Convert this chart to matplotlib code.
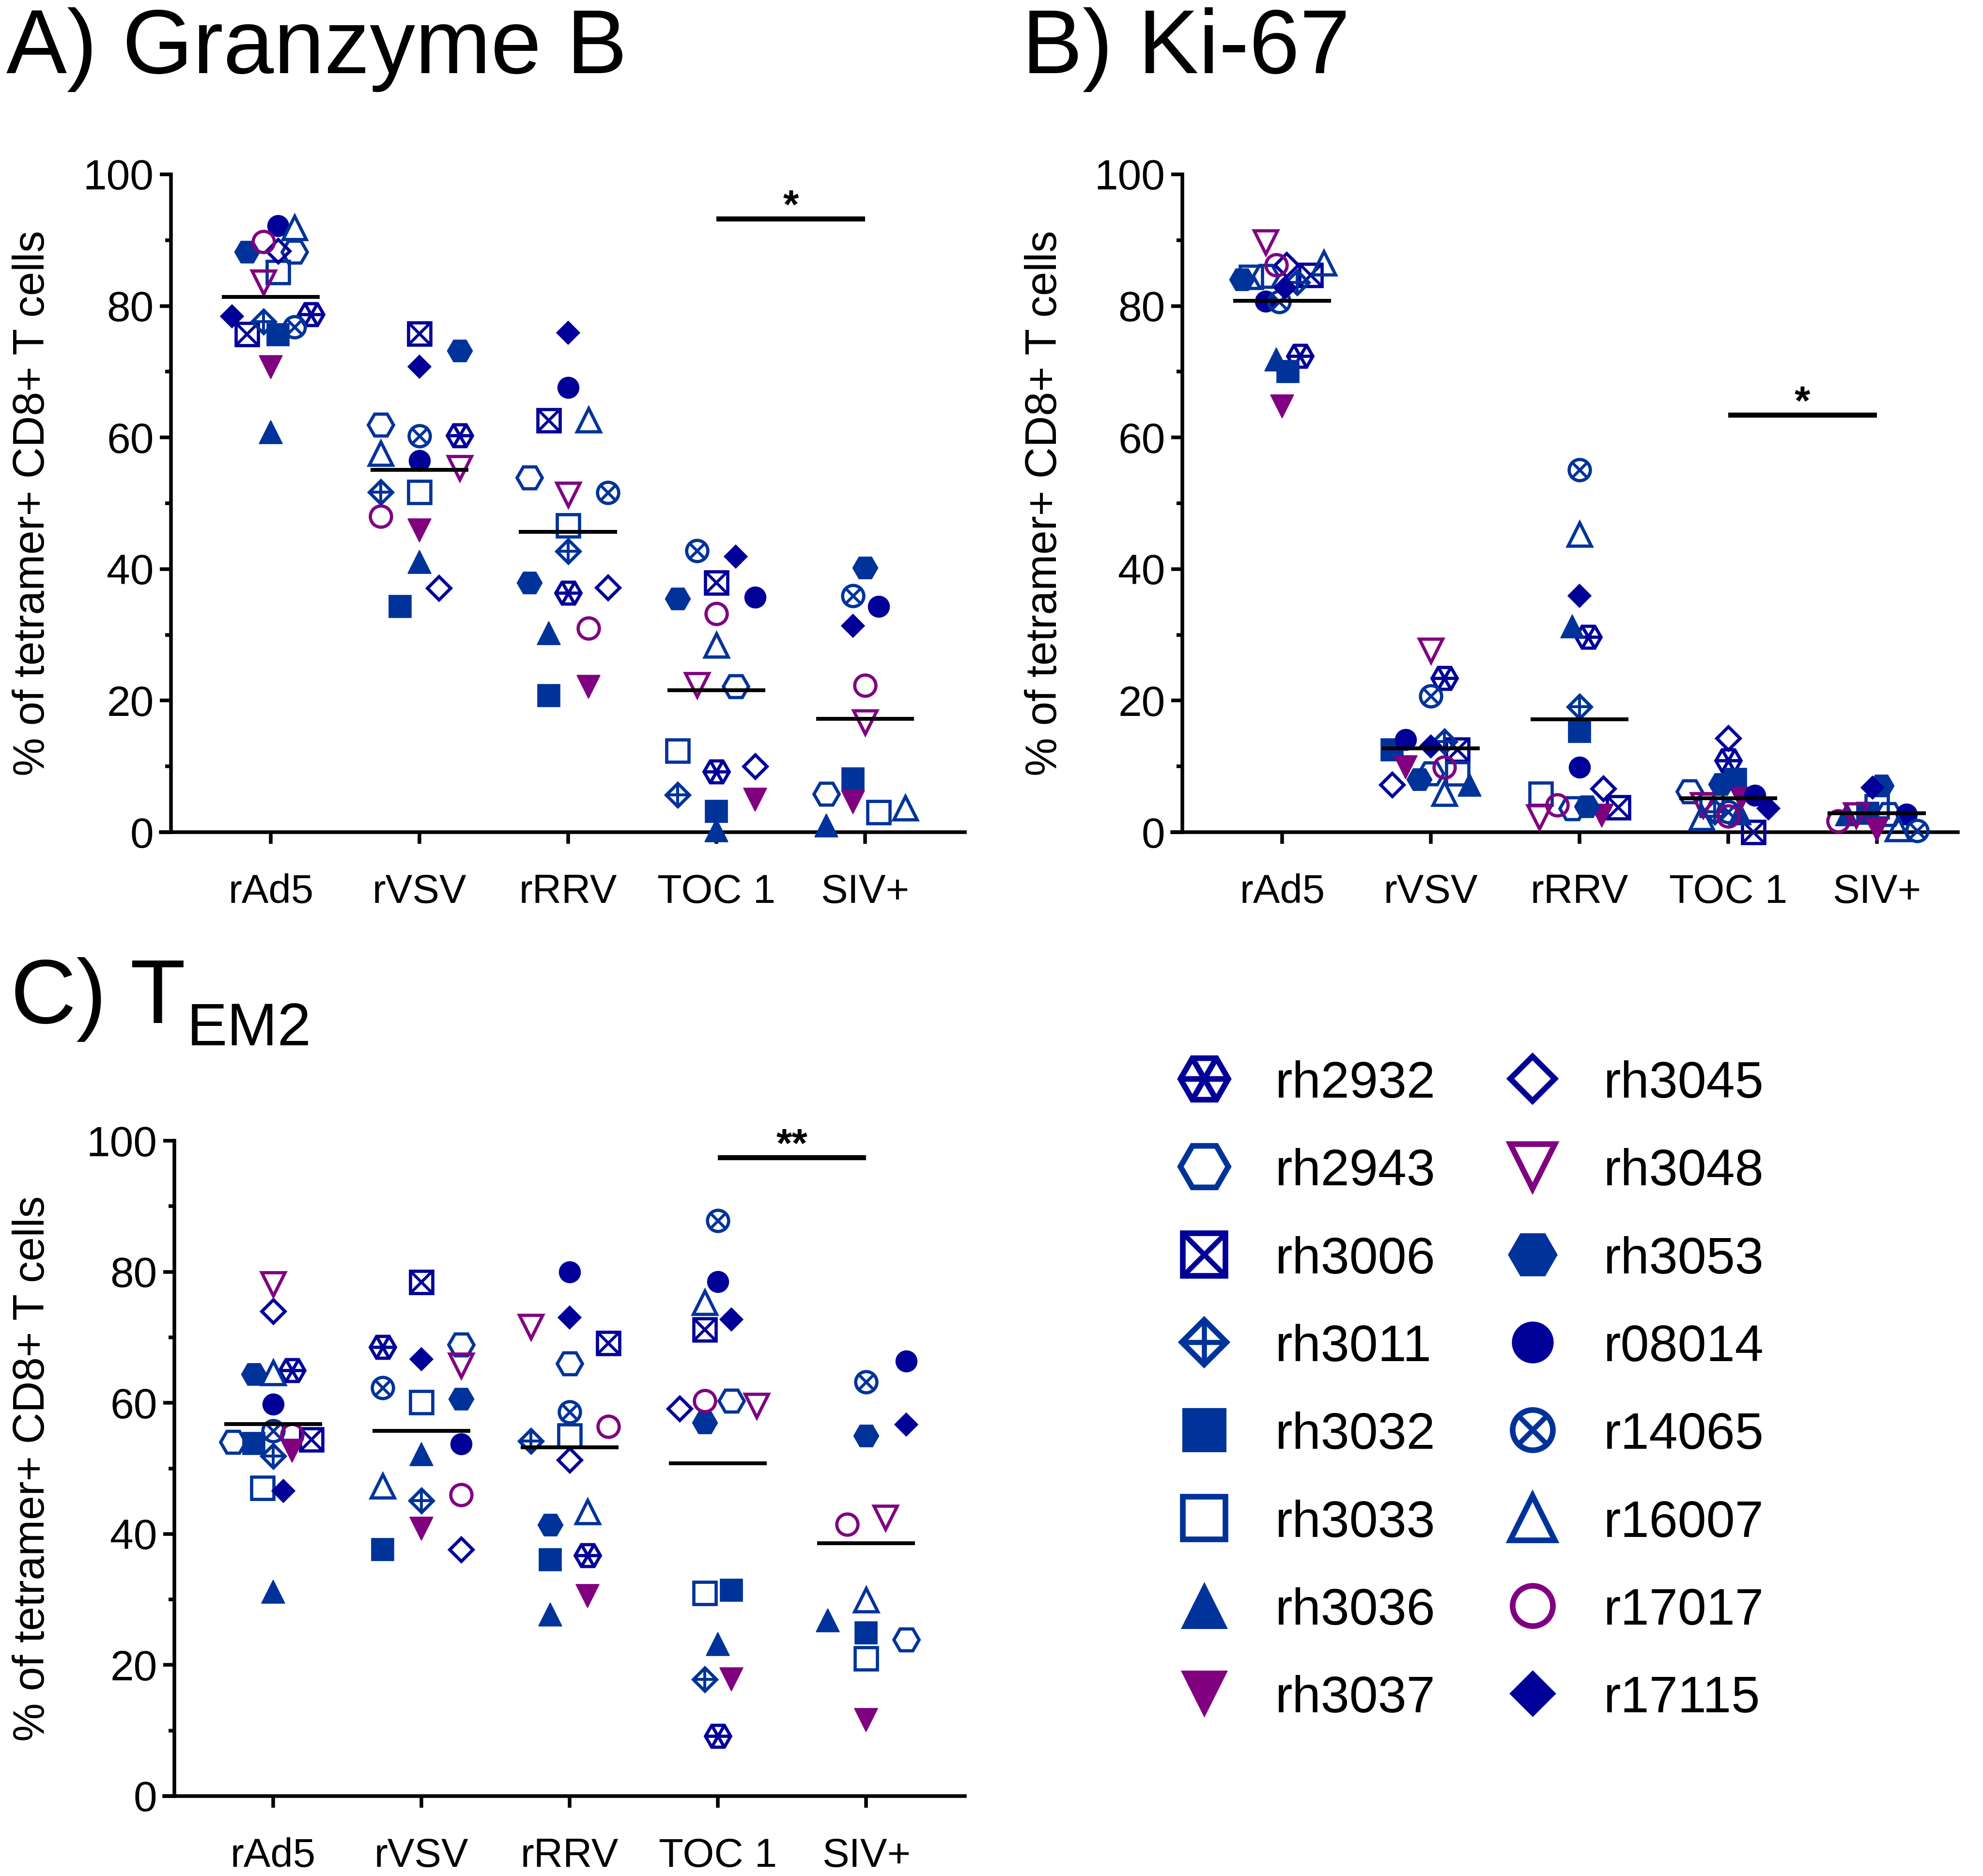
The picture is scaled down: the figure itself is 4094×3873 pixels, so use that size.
import numpy as np
import matplotlib
matplotlib.use("Agg")
import matplotlib.pyplot as plt
from matplotlib.path import Path
from matplotlib.ticker import MultipleLocator

plt.rcParams['font.family'] = ['Liberation Sans', 'DejaVu Sans']

# ---------------- data ----------------
groups = ["rAd5", "rVSV", "rRRV", "TOC 1", "SIV+"]
animals = ["rh2932", "rh2943", "rh3006", "rh3011", "rh3032", "rh3033", "rh3036", "rh3037",
           "rh3045", "rh3048", "rh3053", "r08014", "r14065", "r16007", "r17017", "r17115"]
nan = np.nan

# rows = groups, columns = animals
granzyme_b = [
    [78.7, 88.2, 75.7, 77.6, 75.6, 85.1, 60.8, 70.7, 88.4, 83.6, 88.2, 92.2, 76.8, 91.9, 89.8, 78.4],
    [60.3, 61.9, 75.8, 51.7, 34.3, 51.7, 41.1, 45.9, 37.1, 55.4, 73.2, 56.5, 60.2, 57.6, 48.0, 70.8],
    [36.4, 53.9, 62.6, 42.7, 20.8, 46.6, 30.3, 22.1, 37.2, 51.3, 37.9, 67.6, 51.6, 62.7, 31.0, 75.9],
    [9.2, 22.2, 37.9, 5.7, 3.2, 12.4, 0.3, 4.9, 10.0, 22.4, 35.5, 35.7, 42.8, 28.4, 33.2, 41.9],
    [nan, 5.8, nan, nan, 8.1, 3.0, 1.0, 4.6, nan, 16.7, 40.2, 34.3, 35.9, 3.7, 22.3, 31.4],
]
ki67 = [
    [72.4, 84.5, 84.7, 83.6, 70.0, 84.4, 71.9, 64.7, 86.2, 89.7, 84.0, 80.7, 80.6, 86.5, 86.2, 82.8],
    [23.4, 8.9, 12.5, 13.8, 12.5, 8.9, 7.2, 9.9, 7.2, 27.6, 8.0, 14.1, 20.7, 5.9, 9.9, 13.0],
    [29.7, 3.6, 3.75, 19.1, 15.3, 5.8, 31.3, 2.5, 6.6, 2.3, 3.9, 9.9, 55.1, 45.3, 4.1, 35.9],
    [10.9, 6.2, 0.0, 3.1, 8.0, 4.1, 2.9, 5.1, 14.3, 4.1, 7.3, 5.6, 3.1, 2.2, 2.4, 3.6],
    [nan, 2.7, nan, nan, 2.9, 3.9, 2.7, 0.4, nan, 2.6, 7.1, 2.7, 0.2, 0.5, 1.7, 6.8],
]
tem2 = [
    [65.0, 54.0, 54.4, 51.9, 53.8, 47.0, 31.2, 52.7, 74.0, 78.1, 64.4, 59.8, 55.7, 64.6, 55.1, 46.6],
    [68.5, 68.9, 78.4, 45.1, 37.6, 60.1, 52.2, 40.8, 37.6, 65.7, 60.6, 53.7, 62.3, 47.3, 46.0, 66.7],
    [36.7, 66.0, 69.1, 54.2, 36.1, 55.0, 27.7, 30.5, 51.3, 71.6, 41.4, 80.0, 58.6, 43.4, 56.4, 73.0],
    [9.2, 60.3, 71.2, 17.8, 31.4, 31.0, 23.2, 17.8, 59.1, 59.6, 57.0, 78.5, 87.8, 75.3, 60.3, 72.7],
    [nan, 23.9, nan, nan, 24.9, 21.0, 26.8, 11.6, nan, 42.5, 55.0, 66.4, 63.2, 29.9, 41.5, 56.7],
]

# horizontal scatter (jitter) offsets, in category units
gzb_jitter = [
    [0.27, 0.16, -0.16, -0.05, 0.05, 0.05, 0, 0, 0.05, -0.05, -0.16, 0.05, 0.16, 0.16, -0.05, -0.26],
    [0.27, -0.26, 0, -0.26, -0.13, 0, 0, 0, 0.13, 0.27, 0.27, 0, 0, -0.26, -0.26, 0],
    [0, -0.26, -0.13, 0, -0.13, 0, -0.13, 0.14, 0.27, 0, -0.26, 0, 0.27, 0.14, 0.14, 0],
    [0, 0.13, 0, -0.26, 0, -0.26, 0, 0.26, 0.26, -0.13, -0.26, 0.26, -0.13, 0, 0, 0.13],
    [0, -0.26, 0, 0, -0.08, 0.09, -0.26, -0.08, 0, 0, 0, 0.09, -0.08, 0.27, 0, -0.08],
]
ki67_jitter = [
    [0.12, -0.11, 0.19, 0.10, 0.04, -0.21, -0.04, 0, 0.03, -0.11, -0.27, -0.11, -0.02, 0.28, -0.04, 0.02],
    [0.09, 0, 0.18, 0.09, -0.26, 0.18, 0.26, -0.17, -0.26, 0, -0.08, -0.17, 0, 0.09, 0.09, 0],
    [0.06, -0.05, 0.26, 0, 0, -0.26, -0.05, 0.15, 0.16, -0.27, 0.05, 0, 0, 0, -0.15, 0],
    [0, -0.26, 0.17, -0.09, 0.05, -0.11, 0.08, 0.09, 0, -0.17, -0.05, 0.18, 0, -0.18, 0, 0.27],
    [0, 0.08, 0, 0, -0.06, 0, -0.2, 0, 0, -0.14, 0.03, 0.2, 0.27, 0.14, -0.26, -0.03],
]
tem2_jitter = [
    [0.13, -0.27, 0.26, 0, -0.13, -0.07, 0, 0.13, 0, 0, -0.13, 0, 0, 0, 0.13, 0.07],
    [-0.26, 0.27, 0, 0, -0.26, 0, 0, 0, 0.27, 0.27, 0.27, 0.27, -0.26, -0.26, 0.27, 0],
    [0.12, 0, 0.26, -0.26, -0.13, 0, -0.13, 0.12, 0, -0.26, -0.13, 0, 0, 0.12, 0.26, 0],
    [0, 0.09, -0.09, -0.09, 0.09, -0.09, 0, 0.09, -0.26, 0.26, -0.09, 0, 0, -0.09, -0.09, 0.09],
    [0, 0.27, 0, 0, 0, 0, -0.26, 0, 0, 0.13, 0, 0.27, 0, 0, -0.13, 0.27],
]

# significance: (group from, group to, y of bar, label)
sig_gzb = ("TOC 1", "SIV+", 93.2, "*")
sig_ki67 = ("TOC 1", "SIV+", 63.4, "*")
sig_tem2 = ("TOC 1", "SIV+", 97.4, "**")

# ---------------- styles ----------------
NAVY = '#000099'
BLUE = '#003399'
PURPLE = '#800080'

# animal -> (marker, filled, color, inner decoration)
styles = {
    "rh2932": ('H', False, NAVY, 'spokes'),
    "rh2943": ('H', False, BLUE, None),
    "rh3006": ('s', False, NAVY, 'x'),
    "rh3011": ('D', False, BLUE, 'plus'),
    "rh3032": ('s', True, BLUE, None),
    "rh3033": ('s', False, BLUE, None),
    "rh3036": ('^', True, BLUE, None),
    "rh3037": ('v', True, PURPLE, None),
    "rh3045": ('D', False, NAVY, None),
    "rh3048": ('v', False, PURPLE, None),
    "rh3053": ('H', True, BLUE, None),
    "r08014": ('o', True, NAVY, None),
    "r14065": ('o', False, BLUE, 'xcirc'),
    "r16007": ('^', False, BLUE, None),
    "r17017": ('o', False, PURPLE, None),
    "r17115": ('D', True, NAVY, None),
}
base_ms = {'s': 11.0, 'H': 12.5, 'o': 10.5, '^': 11.5, 'v': 11.5, 'D': 8.2}

SPOKES = Path([(-1, 0), (1, 0), (0.5, 0.866), (-0.5, -0.866), (-0.5, 0.866), (0.5, -0.866)],
              [Path.MOVETO, Path.LINETO] * 3)
XCROSS = Path([(-1, -1), (1, 1), (-1, 1), (1, -1)], [Path.MOVETO, Path.LINETO] * 2)


def draw_marker(ax, x, y, animal, scale=1.0, mew=1.6):
    m, filled, col, inner = styles[animal]
    ms = base_ms[m] * scale
    kw = dict(ls='none', clip_on=False, zorder=3)
    if filled:
        ax.plot([x], [y], marker=m, ms=ms, mfc=col, mec=col, mew=0.4 * scale, **kw)
    else:
        ax.plot([x], [y], marker=m, ms=ms, mfc='none', mec=col, mew=mew, **kw)
    if inner == 'spokes':
        ax.plot([x], [y], marker=SPOKES, ms=ms, mfc='none', mec=col, mew=mew, **kw)
    elif inner == 'x':
        ax.plot([x], [y], marker='x', ms=ms, mec=col, mew=mew * 0.9, **kw)
    elif inner == 'plus':
        ax.plot([x], [y], marker='+', ms=ms * 1.414, mec=col, mew=mew * 0.9, **kw)
    elif inner == 'xcirc':
        ax.plot([x], [y], marker=XCROSS, ms=ms * 0.707, mfc='none', mec=col, mew=mew * 0.9, **kw)


W, H = 4094, 3873
fig = plt.figure(figsize=(W / 300, H / 300), dpi=300)


def fx(px):
    return px / W


def fy(py):
    return 1 - py / H


def make_panel(rect, values, jitter, sig, xlim, ylabel_x):
    ax = fig.add_axes(rect)
    ax.set_xlim(*xlim)
    ax.set_ylim(0, 100)
    for sp in ('top', 'right'):
        ax.spines[sp].set_visible(False)
    for sp in ('left', 'bottom'):
        ax.spines[sp].set_linewidth(1.8)
    ax.spines['bottom'].set_bounds(xlim[0] - 0.07, xlim[1])
    ax.set_xticks(range(len(groups)))
    ax.set_xticklabels(groups, fontsize=20)
    ax.yaxis.set_major_locator(MultipleLocator(20))
    ax.yaxis.set_minor_locator(MultipleLocator(10))
    ax.tick_params(axis='y', which='major', length=5.5, width=1.8, labelsize=21, pad=3)
    ax.tick_params(axis='y', which='minor', length=3.0, width=1.8)
    ax.tick_params(axis='x', which='major', length=5.8, width=1.8, pad=14.5)
    vals = np.array(values, dtype=float)
    jit = np.array(jitter, dtype=float)
    for gi in range(len(groups)):
        for ai, an in enumerate(animals):
            v = vals[gi, ai]
            if np.isnan(v):
                continue
            draw_marker(ax, gi + jit[gi, ai], v, an)
        mean = np.nanmean(vals[gi])
        ax.hlines(mean, gi - 0.33, gi + 0.33, color='black', lw=1.9, zorder=4, clip_on=False)
    g0, g1, yb, lab = sig
    x0, x1 = groups.index(g0), groups.index(g1)
    ax.hlines(yb, x0, x1, color='black', lw=2.5, clip_on=False)
    ax.text((x0 + x1) / 2, yb + 0.1, lab, ha='center', va='baseline', fontsize=20,
            fontweight='bold', clip_on=False)
    bb = ax.get_position()
    fig.text(ylabel_x, (bb.y0 + bb.y1) / 2, "% of tetramer+ CD8+ T cells", rotation=90,
             ha='center', va='center', fontsize=21.5)
    return ax


# panel A
axA = make_panel([fx(353), fy(1718), fx(1992) - fx(353), fy(360) - fy(1718)],
                 granzyme_b, gzb_jitter, sig_gzb, (-0.672, 4.672), fx(68))
# panel B
axB = make_panel([fx(2441), fy(1718), fx(4042) - fx(2441), fy(360) - fy(1718)],
                 ki67, ki67_jitter, sig_ki67, (-0.672, 4.545), fx(2157))
# panel C
axC = make_panel([fx(360), fy(3708), fx(1992) - fx(360), fy(2355) - fy(3708)],
                 tem2, tem2_jitter, sig_tem2, (-0.665, 4.665), fx(68))

# titles
fig.text(fx(13), fy(151), "A) Granzyme B", fontsize=45, va='baseline', ha='left')
fig.text(fx(2110), fy(151), "B) Ki-67", fontsize=45, va='baseline', ha='left')
fig.text(fx(22), fy(2112), "C) T", fontsize=45, va='baseline', ha='left')
fig.text(fx(386), fy(2158), "EM2", fontsize=30, va='baseline', ha='left')

# legend (overlay in pixel coordinates)
lax = fig.add_axes([0, 0, 1, 1])
lax.set_xlim(0, W)
lax.set_ylim(H, 0)
lax.axis('off')
lax.patch.set_visible(False)
col_marker_x = [2486, 3164]
col_text_x = [2633, 3311]
row0, drow = 2227, 181.3
for i, an in enumerate(animals):
    c, r = divmod(i, 8)
    yy = row0 + r * drow
    draw_marker(lax, col_marker_x[c], yy, an, scale=1.9, mew=2.8)
    lax.text(col_text_x[c], yy + 39, an, fontsize=25.5, va='baseline', ha='left')

fig.savefig("out.png", dpi=300)
